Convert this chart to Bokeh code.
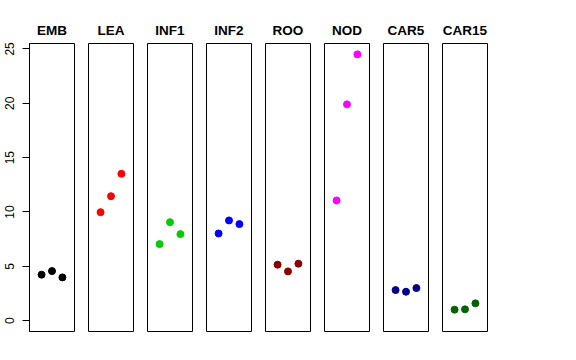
from bokeh.plotting import figure
from bokeh.layouts import row
from bokeh.models import Range1d, FixedTicker
from bokeh.embed import file_html
from bokeh.resources import INLINE

tissues = ["EMB", "LEA", "INF1", "INF2", "ROO", "NOD", "CAR5", "CAR15"]
colors = ["#000000", "#FF0000", "#00CD00", "#0000FF", "#8B0000", "#FF00FF", "#00008B", "#006400"]
replicate = [1, 2, 3]
values = {
    "EMB":   [4.23, 4.56, 3.98],
    "LEA":   [9.98, 11.45, 13.51],
    "INF1":  [7.04, 9.06, 7.96],
    "INF2":  [8.02, 9.22, 8.88],
    "ROO":   [5.15, 4.53, 5.24],
    "NOD":   [11.06, 19.90, 24.50],
    "CAR5":  [2.81, 2.66, 3.00],
    "CAR15": [1.01, 1.04, 1.59],
}
y_ticks = [0, 5, 10, 15, 20, 25]

FONT = "Liberation Sans"
figs = []
for i, (name, col) in enumerate(zip(tissues, colors)):
    first = i == 0
    left_border = 29 if first else 7
    p = figure(
        width=left_border + 45 + 7, height=43 + 288 + 10,
        x_range=Range1d(-0.16, 4.16), y_range=Range1d(-1.0, 25.5),
        output_backend="svg", toolbar_location=None,
        x_axis_location=None, y_axis_location="left" if first else None,
        min_border_left=left_border, min_border_right=7,
        min_border_top=43, min_border_bottom=10,
        title=name,
    )
    p.title.text_font = FONT
    p.title.text_font_size = "13.5px"
    p.title.text_font_style = "bold"
    p.title.text_color = "black"
    p.title.align = "center"
    p.title.standoff = 11
    p.grid.visible = False
    p.outline_line_color = "black"
    p.outline_line_width = 1
    p.outline_line_alpha = 1
    p.background_fill_color = "white"
    p.border_fill_color = "white"
    if first:
        ax = p.yaxis[0]
        ax.ticker = FixedTicker(ticks=y_ticks)
        ax.major_tick_out = 7
        ax.major_tick_in = 0
        ax.minor_tick_line_color = None
        ax.major_label_orientation = "vertical"
        ax.major_label_standoff = 8
        ax.major_label_text_font = FONT
        ax.major_label_text_font_size = "12px"
        ax.major_label_text_color = "black"
        ax.axis_line_color = "black"
    p.scatter(replicate, values[name], size=7, color=col, line_color=col)
    figs.append(p)

layout = row(*figs, spacing=0)
open("out.html", "w").write(file_html(layout, INLINE))
